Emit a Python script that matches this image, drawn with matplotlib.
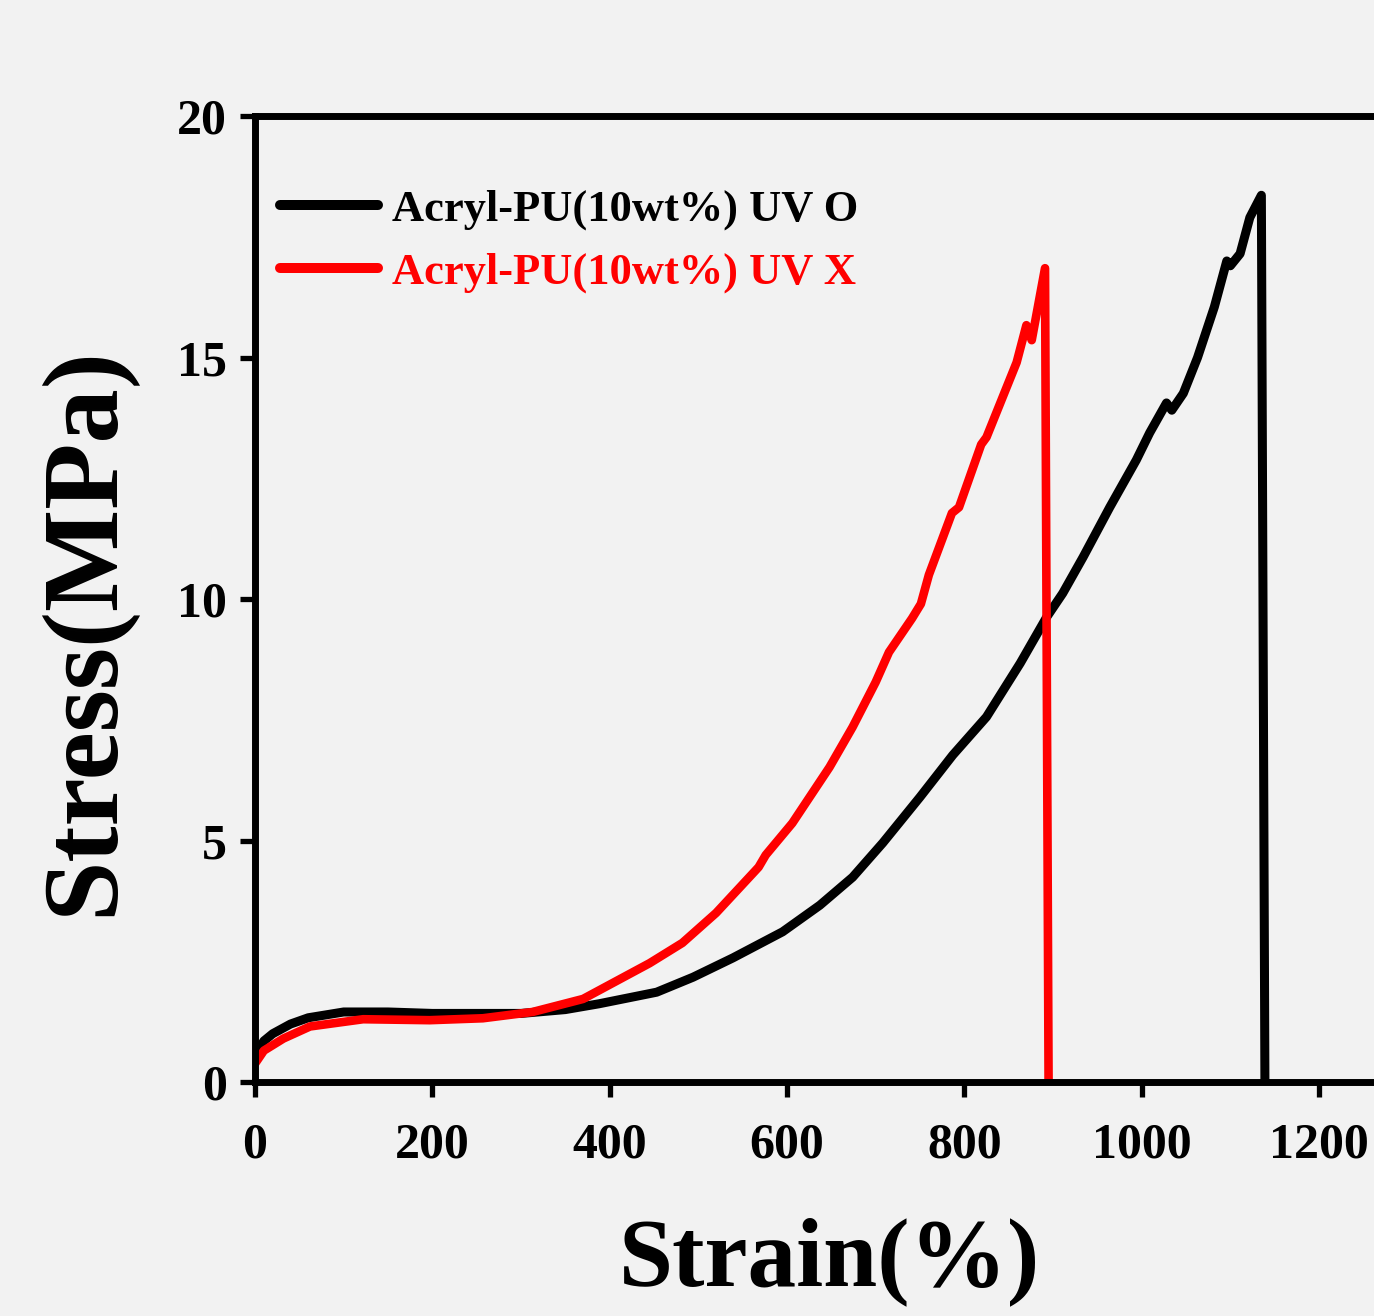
import matplotlib
matplotlib.use('Agg')
import matplotlib.pyplot as plt

# stress-strain data
strain_o = [0, 10, 20, 40, 60, 100, 150, 200, 250, 300, 350, 388, 453, 494, 539,
            595, 637, 674, 708, 750, 787, 825, 863, 893, 911, 934, 964, 994, 1009,
            1028, 1034, 1047, 1063, 1082, 1096, 1100, 1111, 1122, 1135, 1139]
stress_o = [0.55, 0.85, 1.0, 1.2, 1.33, 1.45, 1.45, 1.42, 1.42, 1.42, 1.5, 1.62,
            1.86, 2.17, 2.57, 3.11, 3.66, 4.24, 4.95, 5.9, 6.77, 7.56, 8.67, 9.63,
            10.12, 10.87, 11.9, 12.88, 13.44, 14.06, 13.91, 14.26, 15.0, 16.05, 17.0,
            16.9, 17.15, 17.9, 18.36, 0]

strain_x = [0, 10, 32, 62, 122, 197, 257, 313, 370, 445, 482, 520, 565, 568, 576,
            606, 648, 674, 700, 715, 741, 751, 760, 786, 794, 819, 825, 859, 870,
            876, 891, 895]
stress_x = [0.38, 0.65, 0.9, 1.15, 1.3, 1.28, 1.32, 1.45, 1.72, 2.46, 2.88, 3.5,
            4.39, 4.45, 4.7, 5.36, 6.52, 7.35, 8.28, 8.9, 9.6, 9.9, 10.5, 11.78,
            11.9, 13.2, 13.35, 14.9, 15.67, 15.36, 16.85, 0]

labels = ['Acryl-PU(10wt%) UV O', 'Acryl-PU(10wt%) UV X']
xticks = [0, 200, 400, 600, 800, 1000, 1200]
yticks = [0, 5, 10, 15, 20]

plt.rcParams['font.family'] = 'Liberation Serif'
plt.rcParams['font.weight'] = 'bold'

bg = '#f2f2f2'
fig = plt.figure(figsize=(13.74, 13.16), dpi=100, facecolor=bg)
ax = fig.add_axes([0.1856, 0.1778, 0.8389, 0.734], facecolor=bg)

ax.plot(strain_o, stress_o, color='black', lw=6.5, label=labels[0],
        solid_joinstyle='round', solid_capstyle='round')
ax.plot(strain_x, stress_x, color='red', lw=6.2, label=labels[1],
        solid_joinstyle='round', solid_capstyle='round')

ax.set_xlim(0, 1300)
ax.set_ylim(0, 20)
ax.set_xticks(xticks)
ax.set_yticks(yticks)

for s in ['left', 'bottom', 'top', 'right']:
    ax.spines[s].set_linewidth(5)
ax.tick_params(axis='both', which='major', direction='out', length=11, width=3.8,
               labelsize=36, top=False, right=False)
ax.tick_params(axis='x', pad=18)
ax.tick_params(axis='y', pad=9)
for t in ax.get_xticklabels() + ax.get_yticklabels():
    t.set_fontweight('bold')

ax.set_xlabel('Strain(%)', fontsize=70, fontweight='bold')
ax.xaxis.set_label_coords(0.498, -0.14)
ax.set_ylabel('Stress(MPa)', fontsize=78, fontweight='bold')
ax.yaxis.set_label_coords(-0.104, 0.467)

leg = ax.legend(loc='upper left', bbox_to_anchor=(0.0217, 0.924), frameon=False,
                fontsize=32, handlelength=2.2, handletextpad=0.33,
                labelspacing=0.5, borderaxespad=0, borderpad=0,
                labelcolor='linecolor')
for h in leg.legend_handles:
    h.set_linewidth(7.2)

fig.savefig('out.png', dpi=100, facecolor=bg)
